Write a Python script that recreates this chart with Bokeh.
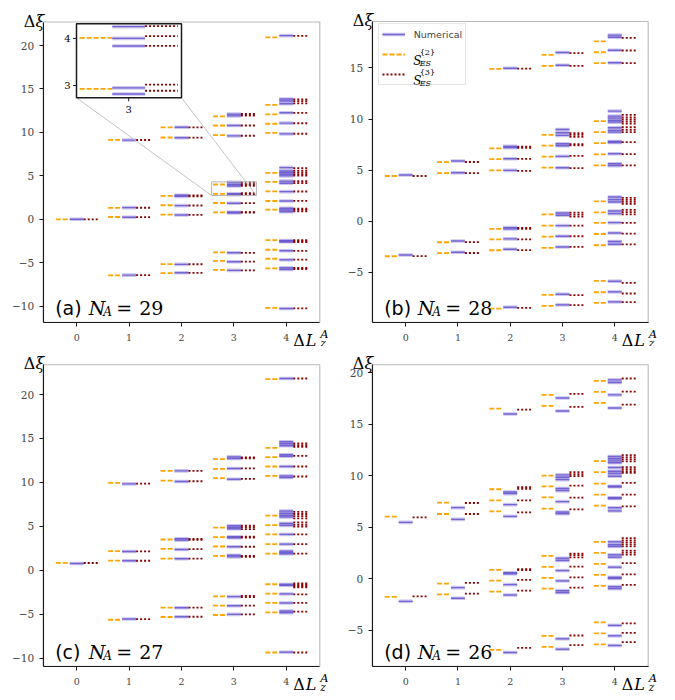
import numpy as np
from bokeh.plotting import figure
from bokeh.layouts import column, row
from bokeh.models import (Label, FixedTicker, CustomJSTickFormatter, Range1d,
                          Legend, LegendItem, ColumnDataSource, BoxAnnotation)
from bokeh.core.properties import value
from bokeh.embed import file_html
from bokeh.resources import INLINE

# ---------------- data ----------------
DL_TICKS = [0, 1, 2, 3, 4]
Y_TICKS = [-10, -5, 0, 5, 10, 15, 20]
PANEL_TAGS = ["(a)", "(b)", "(c)", "(d)"]
N_A = [29, 28, 27, 26]

# panel (a) N_A = 29 ; one list per Delta L_z^A = 0..4
A_S2 = [[0.0],
        [9.15, 1.31, 0.27, -6.46],
        [10.58, 9.42, 2.69, 1.62, 0.54, -5.15, -6.19],
        [11.84, 10.80, 9.69, 4.01, 2.93, 1.88, 0.81, -3.81, -4.78, -5.81],
        [20.95, 13.18, 12.07, 11.00, 9.94, 5.34, 4.30, 3.22, 2.11, 1.11, -2.39, -3.50, -4.54, -5.65, -10.19]]
A_NUM = [[0.0],
         [9.12, 1.35, 0.23, -6.42],
         [10.60, 9.38, 2.77, 2.64, 1.58, 0.50, -5.19, -6.15],
         [12.11, 11.91, 10.80, 9.61, 4.25, 4.00, 3.84, 2.95, 2.82, 1.85, 0.82, 0.74, -3.85, -4.89, -5.88],
         [21.14, 13.84, 13.61, 13.30, 12.26, 11.07, 9.84, 5.95, 5.57, 5.38, 5.19, 5.00, 4.40, 4.15, 3.19,
          2.11, 1.27, 1.08, 0.88, -2.45, -2.52, -2.58, -3.62, -4.66, -5.58, -5.77, -10.27]]
A_S3 = [[0.0],
        [9.13, 1.33, 0.25, -6.43],
        [10.59, 9.40, 2.75, 2.65, 1.59, 0.52, -5.17, -6.16],
        [12.12, 11.93, 10.80, 9.62, 4.26, 4.05, 3.84, 3.02, 2.89, 1.86, 0.82, 0.76, -3.86, -4.88, -5.87],
        [21.12, 13.80, 13.60, 13.35, 12.25, 11.06, 9.85, 5.90, 5.60, 5.40, 5.20, 5.02, 4.38, 4.16, 3.20,
         2.12, 1.22, 1.08, 0.92, -2.40, -2.52, -2.62, -3.62, -4.64, -5.60, -5.74, -10.25]]

# panel (b) N_A = 28
B_S2 = [[4.43, -3.42],
        [5.79, 4.72, -2.05, -3.12],
        [14.90, 7.13, 6.08, 4.98, -0.75, -1.76, -2.83, -8.53],
        [16.27, 15.20, 8.46, 7.39, 6.32, 5.24, 0.68, -0.42, -1.50, -2.60, -7.19, -8.27],
        [17.60, 16.53, 15.47, 9.80, 8.72, 7.65, 6.54, 5.47, 1.95, 0.88, -0.16, -1.24, -2.34, -5.83, -6.94, -7.98]]
B_NUM = [[4.52, -3.29],
         [5.89, 4.74, -1.92, -3.03],
         [14.97, 7.33, 7.20, 6.12, 4.98, -0.62, -0.74, -1.72, -2.73, -8.40],
         [16.50, 15.26, 8.98, 8.66, 8.40, 7.58, 7.39, 6.35, 5.24, 0.81, 0.59, -0.42, -1.46, -2.51, -7.13, -8.17],
         [18.20, 18.00, 16.73, 15.50, 10.77, 10.28, 10.09, 9.86, 9.70, 9.15, 8.89, 8.72, 7.80, 7.70, 6.61,
          5.63, 5.44, 2.37, 2.12, 1.88, 1.00, 0.75, -0.13, -1.14, -1.98, -2.25, -5.86, -6.90, -7.88]]
B_S3 = [[4.43, -3.40],
        [5.80, 4.72, -2.03, -3.10],
        [14.92, 7.30, 7.18, 6.10, 4.93, -0.64, -0.75, -1.76, -2.82, -8.46],
        [16.45, 15.20, 8.63, 8.45, 8.25, 7.55, 7.42, 6.40, 5.20, 0.85, 0.65, 0.45, -0.42, -1.46, -2.50, -7.22, -8.20],
        [17.93, 16.70, 15.46, 10.40, 10.15, 9.95, 9.75, 9.55, 9.20, 8.95, 8.72, 7.74, 6.56, 5.47,
         2.30, 2.10, 1.90, 1.70, 1.12, 0.90, 0.68, -0.16, -1.20, -2.25, -6.02, -7.06, -7.90]]

# panel (c) N_A = 27
C_S2 = [[0.84],
        [9.94, 2.17, 1.10, -5.64],
        [11.31, 10.21, 3.50, 2.44, 1.33, -4.27, -5.33],
        [12.65, 11.54, 10.48, 4.84, 3.77, 2.70, 1.64, -2.97, -4.04, -5.10],
        [21.75, 13.94, 12.88, 11.81, 10.74, 6.21, 5.14, 4.08, 2.97, 1.90, -1.60, -2.67, -3.73, -4.80, -9.37]]
C_NUM = [[0.76],
         [9.83, 2.13, 1.07, -5.56],
         [11.31, 10.10, 3.58, 3.43, 2.36, 1.30, -4.27, -5.30],
         [12.90, 12.72, 11.58, 10.36, 5.07, 4.88, 4.72, 3.81, 3.70, 2.67, 1.71, 1.52, -3.01, -4.04, -5.03],
         [21.83, 14.63, 14.40, 14.17, 13.14, 12.98, 11.81, 10.74, 10.55, 6.74, 6.48, 6.25, 6.06, 5.33, 5.10,
          4.08, 2.97, 2.17, 2.00, 1.87, -1.62, -1.72, -2.70, -3.73, -4.65, -4.84, -9.33]]
C_S3 = [[0.82],
        [9.87, 2.15, 1.08, -5.58],
        [11.31, 10.13, 3.56, 3.45, 2.40, 1.32, -4.27, -5.30],
        [12.85, 12.75, 11.60, 10.40, 5.08, 4.90, 4.68, 3.81, 3.70, 2.67, 1.62, 1.52, -2.92, -3.06, -4.04, -5.03],
        [21.83, 14.45, 14.25, 14.05, 13.03, 11.81, 10.67, 6.65, 6.40, 6.15, 5.90, 5.45, 5.20, 4.98, 4.08,
         2.97, 1.90, -1.50, -1.65, -1.80, -1.96, -2.74, -3.73, -4.72, -9.37]]

# panel (d) N_A = 26
D_S2 = [[6.04, -1.75],
        [7.40, 6.30, -0.45, -1.49],
        [16.53, 8.70, 7.63, 6.56, 0.88, -0.16, -1.23, -6.88],
        [17.86, 16.79, 10.03, 8.99, 7.92, 6.82, 2.24, 1.17, 0.10, -0.94, -5.52, -6.59],
        [19.22, 18.15, 17.08, 11.43, 10.36, 9.25, 8.18, 7.11, 3.60, 2.53, 1.46, 0.39, -0.68, -4.22, -5.29, -6.36]]
D_NUM = [[5.49, -2.18],
         [6.92, 5.78, -0.84, -1.88],
         [16.00, 8.43, 8.28, 7.21, 6.07, 0.60, 0.50, -0.55, -1.56, -7.14],
         [17.56, 16.30, 10.10, 9.87, 9.64, 8.77, 8.57, 7.50, 6.49, 6.33, 2.01, 1.79, 0.81, -0.19, -1.14, -1.33,
          -5.81, -6.82],
         [19.32, 19.06, 17.86, 16.59, 11.88, 11.66, 11.46, 11.27, 10.81, 10.45, 10.23, 9.97, 9.00, 8.95, 7.88,
          7.80, 6.90, 6.60, 3.60, 3.32, 3.15, 2.34, 2.11, 1.14, 0.15, 0.05, -0.75, -0.94, -4.51, -5.52, -6.46]]
D_S3 = [[5.97, -1.69],
        [7.37, 6.30, -0.39, -1.43],
        [16.43, 8.90, 8.75, 7.63, 6.46, 0.96, 0.86, -0.10, -1.14, -6.69],
        [17.95, 16.69, 10.36, 10.16, 9.97, 9.06, 7.89, 6.75, 2.45, 2.30, 2.10, 1.20, 0.16, -0.84, -5.49, -6.43],
        [19.45, 18.18, 16.92, 12.00, 11.80, 11.60, 11.40, 10.85, 10.65, 10.45, 10.30, 9.32, 8.18, 7.05,
         3.95, 3.75, 3.55, 3.35, 3.15, 2.75, 2.55, 2.35, 1.53, 0.45, -0.58, -4.32, -5.23, -6.14]]

# inset of panel (a): the zoomed window (data units)
INSET_VIEW_X = [2.575, 3.43]
INSET_VIEW_Y = [2.74, 4.31]
INSET_TICKS_X = [3]
INSET_TICKS_Y = [3, 4]
INSET_COLUMN = 3

LEGEND_LABELS = ["Numerical", "S", "S"]
LEGEND_SUPS = ["{2}", "{3}"]
LEGEND_SUBS = ["ES", "ES"]

# ---------------- layout & styles ----------------
# canvas size and axes box (left, right, top, bottom) in canvas pixels
GEOM = [dict(w=340, h=346, box=(42.7, 319.3, 21.5, 321.7)),
        dict(w=334, h=346, box=(31.7, 307.7, 21.0, 321.7)),
        dict(w=340, h=352, box=(42.7, 319.3, 18.3, 319.7)),
        dict(w=334, h=352, box=(31.7, 307.7, 18.3, 319.7))]

H = 0.4
SEG = {"S2": (-H, -H / 3), "NUM": (-H / 3, H / 3), "S3": (H / 3, H)}
STY = {
    "S2": [dict(line_color="#FFA500", line_dash="5 2", line_width=1.8, line_alpha=1.0)],
    "NUM": [dict(line_color="#6A5ACD", line_dash="solid", line_width=3.6, line_alpha=0.35),
            dict(line_color="#6A5ACD", line_dash="solid", line_width=1.4, line_alpha=0.9)],
    "S3": [dict(line_color="#8B0000", line_dash="2 2", line_width=1.8, line_alpha=1.0)],
}
SERIF = "DejaVu Serif"
SANS = "DejaVu Sans"
INK = "#1a1a1a"


def seg_source(levels, key, tf=None, ylim=None, only=None):
    a, b = SEG[key]
    x0, x1, y = [], [], []
    for k, vals in zip(DL_TICKS, levels):
        if only is not None and k != only:
            continue
        for v in vals:
            if ylim is not None and not (ylim[0] <= v <= ylim[1]):
                continue
            x0.append(k + a)
            x1.append(k + b)
            y.append(v)
    x0, x1, y = np.array(x0), np.array(x1), np.array(y)
    if tf is not None:
        x0, y0 = tf(x0, y)
        x1, _ = tf(x1, y)
    else:
        y0 = y
    return ColumnDataSource(dict(x0=x0, x1=x1, y0=y0, y1=y0))


def draw_series(p, src, key):
    return [p.segment("x0", "y0", "x1", "y1", source=src, **st) for st in STY[key]]


def lab(p, text, x, y, dx, dy, size, font=SERIF, style="normal", align="left",
        base="alphabetic"):
    p.add_layout(Label(x=x, y=y, x_offset=dx, y_offset=dy, text=text, text_font=font,
                       text_font_size=f"{size}px", text_font_style=style, text_align=align,
                       text_baseline=base, text_color="black", level="overlay"))


def make_panel(idx, s2, num, s3, legend=False, inset=False):
    g = GEOM[idx]
    W, Hh = g["w"], g["h"]
    L, R, T, B = g["box"]
    allv = [v for ser in (s2, num, s3) for lst in ser for v in lst]
    lo, hi = min(allv), max(allv)
    pad = 0.05 * (hi - lo)
    ys, ye = lo - pad, hi + pad
    xspan = (DL_TICKS[-1] + H) - (DL_TICKS[0] - H)
    xs, xe = DL_TICKS[0] - H - 0.05 * xspan, DL_TICKS[-1] + H + 0.05 * xspan
    dxpp = (xe - xs) / (R - L)
    dypp = (ye - ys) / (B - T)

    p = figure(width=W, height=Hh, min_border=0, min_border_left=0, min_border_right=0,
               min_border_top=0, min_border_bottom=0,
               x_range=Range1d(xs - L * dxpp, xe + (W - R) * dxpp),
               y_range=Range1d(ys - (Hh - B) * dypp, ye + T * dypp),
               output_backend="svg", toolbar_location=None, tools="")
    p.background_fill_color = "white"
    p.border_fill_color = "white"
    p.outline_line_color = None
    p.xgrid.visible = False
    p.ygrid.visible = False

    xa, ya = p.xaxis[0], p.yaxis[0]
    xa.fixed_location = ys
    ya.fixed_location = xs
    xa.bounds = (xs, xe)
    ya.bounds = (ys, ye)
    xa.ticker = FixedTicker(ticks=DL_TICKS, minor_ticks=[])
    ya.ticker = FixedTicker(ticks=[t for t in Y_TICKS if ys <= t <= ye], minor_ticks=[])
    ya.formatter = CustomJSTickFormatter(
        code="return tick < 0 ? '\\u2212' + Math.abs(tick) : String(tick);")
    for ax in (xa, ya):
        ax.axis_line_color = INK
        ax.axis_line_width = 1.1
        ax.major_tick_line_color = INK
        ax.major_tick_out = 4
        ax.major_tick_in = 0
        ax.minor_tick_line_color = None
        ax.major_label_text_font = SERIF
    xa.major_label_text_font_size = "9.5px"
    ya.major_label_text_font_size = "10.5px"
    xa.major_label_standoff = 8
    ya.major_label_standoff = 5

    rends = {}
    for key, data in (("S2", s2), ("NUM", num), ("S3", s3)):
        rends[key] = draw_series(p, seg_source(data, key), key)

    # axes box (top / right edges)
    p.add_layout(BoxAnnotation(left=xs, right=xe, bottom=ys, top=ye, fill_alpha=0,
                               line_color=INK, line_width=1.1, level="underlay"))

    # ---- inset (panel a) ----
    if inset:
        vx0, vx1 = INSET_VIEW_X
        vy0, vy1 = INSET_VIEW_Y
        bx0, bx1 = xs + 33.3 * dxpp, xs + 138.3 * dxpp
        by1, by0 = ye - 1.8 * dypp, ye - 75.8 * dypp

        def tf(x, y):
            return (bx0 + (x - vx0) / (vx1 - vx0) * (bx1 - bx0),
                    by0 + (y - vy0) / (vy1 - vy0) * (by1 - by0))

        p.quad(left=[vx0], right=[vx1], bottom=[vy0], top=[vy1], fill_color=None,
               line_color="#b5b5b5", line_width=1)
        p.segment(x0=[bx0, bx1], y0=[by0, by0], x1=[vx0, vx1], y1=[vy0, vy0],
                  line_color="#c4c4c4", line_width=1)
        p.quad(left=[bx0], right=[bx1], bottom=[by0], top=[by1], fill_color="white",
               line_color=None)
        for key, data in (("S2", s2), ("NUM", num), ("S3", s3)):
            draw_series(p, seg_source(data, key, tf=tf, ylim=(vy0, vy1), only=INSET_COLUMN), key)
        p.quad(left=[bx0], right=[bx1], bottom=[by0], top=[by1], fill_color=None,
               line_color=INK, line_width=1.5)
        ty = [tf(np.array([vx0]), np.array([t]))[1][0] for t in INSET_TICKS_Y]
        tx = [tf(np.array([t]), np.array([vy0]))[0][0] for t in INSET_TICKS_X]
        p.segment(x0=[bx0 - 3.5 * dxpp] * len(ty), x1=[bx0] * len(ty), y0=ty, y1=ty,
                  line_color=INK, line_width=1)
        p.segment(x0=tx, x1=tx, y0=[by0] * len(tx), y1=[by0 - 3.5 * dypp] * len(tx),
                  line_color=INK, line_width=1)
        for t, yy in zip(INSET_TICKS_Y, ty):
            lab(p, str(t), bx0, yy, -6, 0, 10, align="right", base="middle")
        for t, xx in zip(INSET_TICKS_X, tx):
            lab(p, str(t), xx, by0, 0, -8, 10, align="center", base="top")

    # ---- legend (panel b) ----
    if legend:
        items = [LegendItem(label=value(LEGEND_LABELS[0]), renderers=rends["NUM"]),
                 LegendItem(label=value(" "), renderers=rends["S2"]),
                 LegendItem(label=value(" "), renderers=rends["S3"])]
        lg = Legend(items=items, location=(L + 6, Hh - (T + 64)), glyph_width=23,
                    glyph_height=14, label_height=14, label_width=48, padding=3, spacing=6,
                    label_standoff=9, margin=0, label_text_font=SANS,
                    label_text_font_size="9.5px", background_fill_alpha=0.0,
                    border_line_color="#cccccc", border_line_width=1)
        p.add_layout(lg)
        for i, (sup, sub) in enumerate(zip(LEGEND_SUPS, LEGEND_SUBS)):
            base = -39 - 20 * i
            lab(p, LEGEND_LABELS[i + 1], xs, ye, 41, base, 12, style="italic")
            lab(p, sup, xs, ye, 47.5, base + 8.5, 8)
            lab(p, sub, xs, ye, 47.5, base - 3, 8, style="italic")

    # ---- axis labels ----
    lab(p, "\u03be", xs, ye, 1, 1, 16, style="italic", align="right")
    lab(p, "\u0394", xs, ye, -8, 1, 16, align="right")
    lab(p, "\u0394", DL_TICKS[-1], ys, 7, -18.5, 16)
    lab(p, "L", DL_TICKS[-1], ys, 19.5, -18.5, 16, style="italic")
    lab(p, "A", DL_TICKS[-1], ys, 34, -11.5, 11.5, style="italic")
    lab(p, "z", DL_TICKS[-1], ys, 34, -20.5, 10.5, style="italic")

    # ---- panel tag ----
    lab(p, PANEL_TAGS[idx], xs, ys, 12, 14, 19, font=SANS)
    lab(p, "N", xs, ys, 45.5, 14, 19, style="italic")
    lab(p, "A", xs, ys, 60, 10.5, 12, style="italic")
    lab(p, "=", xs, ys, 73, 14, 19)
    lab(p, str(N_A[idx]), xs, ys, 96, 14, 19)
    return p


pa = make_panel(0, A_S2, A_NUM, A_S3, inset=True)
pb = make_panel(1, B_S2, B_NUM, B_S3, legend=True)
pc = make_panel(2, C_S2, C_NUM, C_S3)
pd = make_panel(3, D_S2, D_NUM, D_S3)

layout = column(row(pa, pb), row(pc, pd))
open("out.html", "w").write(file_html(layout, INLINE))
